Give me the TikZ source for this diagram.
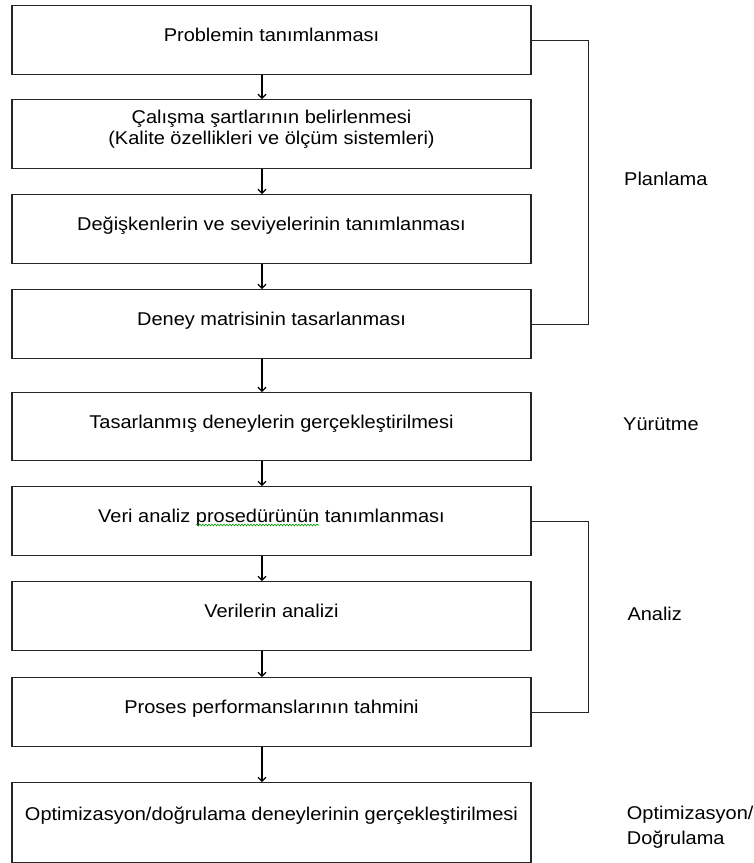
\documentclass[tikz,border=0pt]{standalone}
\usepackage{fontspec}
\setmainfont{Liberation Sans}[FakeStretch=1.08]
\usetikzlibrary{decorations.pathmorphing,arrows.meta}

\begin{document}
\begin{tikzpicture}[x=1pt, y=-1pt,
	block/.style={draw=black!85, line width=1.3pt, minimum width=519pt, inner sep=0pt,
		text height=36pt, text depth=33pt, anchor=north, align=center,
		font=\fontsize{18.5}{20.3}\selectfont},
	phase/.style={anchor=base west, inner sep=0pt, align=left,
		font=\fontsize{18.5}{24.7}\selectfont},
	link/.style={draw=black!85, line width=1.3pt}]
		\useasboundingbox (0,0) rectangle (754,863);
		% adimlar
		\node[block] (tanim) at (271.5,5) {Problemin tanımlanması};
		\node[block, text height=44.5pt, text depth=24.5pt] (sart) at (271.5,99) {Çalışma şartlarının belirlenmesi\\(Kalite özellikleri ve ölçüm sistemleri)};
		\node[block] (degisken) at (271.5,194) {Değişkenlerin ve seviyelerinin tanımlanması};
		\node[block] (matris) at (271.5,289) {Deney matrisinin tasarlanması};
		\node[block, text depth=32pt] (deney) at (271.5,392) {Tasarlanmış deneylerin gerçekleştirilmesi};
		\node[block] (prosedur) at (271.5,486) {Veri analiz prosedürünün tanımlanması};
		\node[block] (analizi) at (271.5,581) {Verilerin analizi};
		\node[block] (tahmin) at (271.5,677) {Proses performanslarının tahmini};
		\node[block, text height=38pt, text depth=41.5pt] (optim) at (271.5,782) {Optimizasyon/doğrulama deneylerinin gerçekleştirilmesi};
		% oklar
		\foreach \a/\b in {tanim/sart, sart/degisken, degisken/matris, matris/deney, deney/prosedur, prosedur/analizi, analizi/tahmin, tahmin/optim}
			\draw[-{Straight Barb[length=4pt,width=8pt]}, line width=1.1pt] ([xshift=-9.5pt]\a.south) -- ([xshift=-9.5pt]\b.north);
		% parantezler
		\draw[link] (tanim.east) -- ++(57,0) |- (matris.east);
		\draw[link] (prosedur.east) -- ++(57,0) |- (tahmin.east);
		\draw[green!60!black, line width=0.6pt, decorate, decoration={snake, amplitude=0.9pt, segment length=3pt}] (196,525) -- (319,525);
		% asamalar
		\node[phase] (planlama) at (624,185) {Planlama};
		\node[phase] (yurutme) at (623,430) {Yürütme};
		\node[phase] (analiz) at (627.3,620.7) {Analiz};
		\node[phase] (dogrulama) at (626.7,844) {Optimizasyon/\\Doğrulama};
	\end{tikzpicture}
\end{document}
